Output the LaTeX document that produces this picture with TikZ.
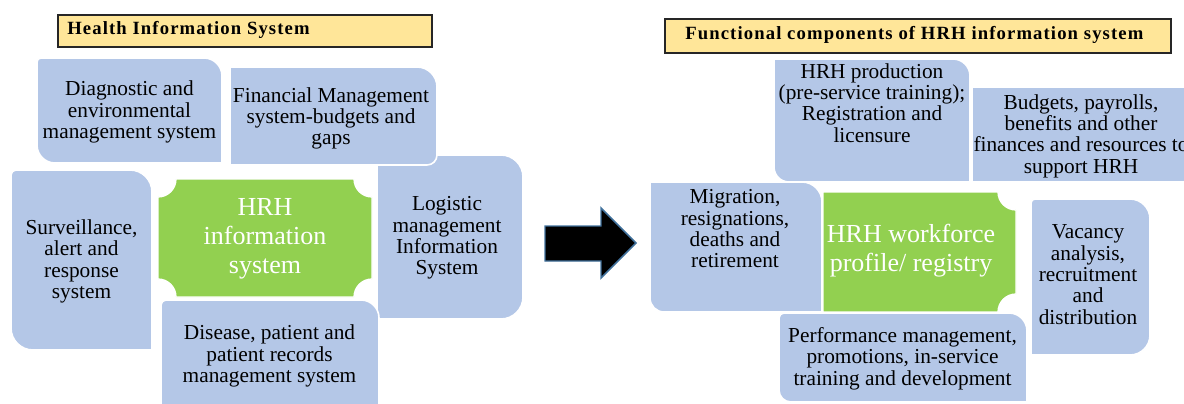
\documentclass[tikz,border=0pt]{standalone}
\usepackage{fontspec}
\setmainfont{Liberation Serif}
\definecolor{tileblue}{RGB}{180,199,231}
\definecolor{hubgreen}{RGB}{146,208,80}
\definecolor{bannerfill}{RGB}{255,230,153}
\definecolor{arrowedge}{RGB}{65,113,156}

% Rectangle with its own radius at each corner: style, x1,y1,x2,y2, rTL,rTR,rBR,rBL
\newcommand\tilebox[9]{%
  \path[#1] (#2+#6,#3) -- (#4-#7,#3)
    .. controls (#4-0.448*#7,#3) and (#4,#3+0.448*#7) .. (#4,#3+#7)
    -- (#4,#5-#8)
    .. controls (#4,#5-0.448*#8) and (#4-0.448*#8,#5) .. (#4-#8,#5)
    -- (#2+#9,#5)
    .. controls (#2+0.448*#9,#5) and (#2,#5-0.448*#9) .. (#2,#5-#9)
    -- (#2,#3+#6)
    .. controls (#2,#3+0.448*#6) and (#2+0.448*#6,#3) .. (#2+#6,#3)
    -- cycle;}

% Rectangle with concave (scooped) corners: style, x1,y1,x2,y2, rTL,rTR,rBR,rBL
\newcommand\hubbox[9]{%
  \path[#1] (#2+#6,#3) -- (#4-#7,#3)
    .. controls (#4-#7,#3+0.552*#7) and (#4-0.552*#7,#3+#7) .. (#4,#3+#7)
    -- (#4,#5-#8)
    .. controls (#4-0.552*#8,#5-#8) and (#4-#8,#5-0.552*#8) .. (#4-#8,#5)
    -- (#2+#9,#5)
    .. controls (#2+#9,#5-0.552*#9) and (#2+0.552*#9,#5-#9) .. (#2,#5-#9)
    -- (#2,#3+#6)
    .. controls (#2+0.552*#6,#3+#6) and (#2+#6,#3+0.552*#6) .. (#2+#6,#3)
    -- cycle;}

\begin{document}
\begin{tikzpicture}[x=0.75pt,y=-0.75pt,
  tile/.style={fill=tileblue, draw=white, line width=1.2pt},
  hub/.style={fill=hubgreen, draw=white, line width=1pt},
  banner/.style={fill=bannerfill, draw=black!85, line width=0.9pt},
  lbl/.style={align=center, inner sep=0pt, text=black, font=\fontsize{16}{16}\selectfont},
  hublbl/.style={align=center, inner sep=0pt, text=white, font=\fontsize{19.5}{21.6}\selectfont},
  bannerlbl/.style={anchor=base west, inner sep=0pt, text=black,
    font=\fontsize{14}{16}\selectfont\bfseries\addfontfeature{LetterSpace=6}},
  blockarrow/.style={fill=black, draw=arrowedge, line width=1.1pt, line join=miter},
]
\useasboundingbox (0,0) rectangle (1184,403);
\clip (0,0) rectangle (1184,403);

% ---------- Health Information System ----------
\path[banner] (58,15) rectangle (432,47);
\node[bannerlbl] (hisTitle) at (67,35) {Health Information System};

\tilebox{tile}{37}{58}{222}{163}{4}{18}{0}{18}
\tilebox{tile}{11}{170}{152}{350}{5}{22}{0}{22}
\tilebox{tile}{377}{155}{523}{319}{0}{22}{22}{0}
\tilebox{tile}{230}{67}{437}{165}{0}{20}{10}{0}
\tilebox{tile}{161}{300}{379}{412}{5}{18}{0}{0}
\hubbox{hub}{158}{179}{372}{297}{18}{18}{18}{18}

\node[lbl] (diag) at (129.5,112) {Diagnostic and\\environmental\\management system};
\node[lbl] (fin) at (331,118.5) {Financial Management\\system-budgets and\\gaps};
\node[lbl] (surv) at (81.5,261.5) {Surveillance,\\alert and\\response\\system};
\node[lbl] (logi) at (447,238) {Logistic\\management\\Information\\System};
\node[lbl] (dis) at (269.5,356) {Disease, patient and\\patient records\\management system};
\node[hublbl] (hisHub) at (265,238.5) {HRH\\information\\system};

% ---------- block arrow ----------
\path[blockarrow] (545,226) -- (601,226) -- (601,208) -- (636,243)
  -- (601,278) -- (601,261) -- (545,261) -- cycle;

% ---------- Functional components ----------
\path[banner] (665,19) rectangle (1171,53);
\node[bannerlbl] (hrhTitle) at (685,39.5) {Functional components of HRH information system};

\tilebox{tile}{774}{59}{970}{182}{0}{17}{0}{15}
\tilebox{tile}{972}{87}{1200}{182}{0}{0}{0}{0}
\tilebox{tile}{1031}{199}{1150}{355}{4}{20}{20}{0}
\tilebox{tile}{650}{182}{822}{312}{0}{20}{0}{14}
\hubbox{hub}{823}{192}{1016}{312}{0}{18}{18}{0}
\tilebox{tile}{779}{313}{1027}{402}{5}{18}{0}{12}

\node[lbl] (prod) at (872,103) {HRH production\\(pre-service training);\\Registration and\\licensure};
\node[lbl] (budg) at (1081,136) {Budgets, payrolls,\\benefits and other\\finances and resources to\\support HRH};
\node[lbl] (migr) at (735,229) {Migration,\\resignations,\\deaths and\\retirement};
\node[lbl] (vac) at (1088,274.5) {Vacancy\\analysis,\\recruitment\\and\\distribution};
\node[lbl] (perf) at (902.5,358.5) {Performance management,\\promotions, in-service\\training and development};
\node[hublbl] (hrhHub) at (911,251) {HRH workforce\\profile/ registry};
\end{tikzpicture}
\end{document}
